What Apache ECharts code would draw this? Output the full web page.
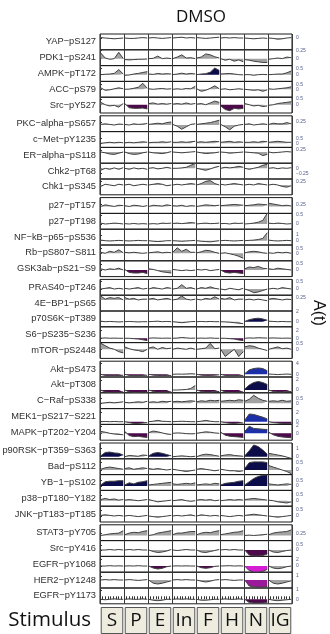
<!DOCTYPE html>
<html>
<head>
<meta charset="utf-8">
<script src="https://cdn.jsdelivr.net/npm/echarts@6/dist/echarts.min.js"></script>
<style>
  html, body { margin: 0; padding: 0; background: #fff; }
  #main { width: 330px; height: 634px; }
</style>
</head>
<body>
<div id="main"></div>
<script>
// stimulus columns
const stimuli = ['S', 'P', 'E', 'In', 'F', 'H', 'N', 'IG'];

// row labels, top to bottom
const proteins = [
  'YAP−pS127', 'PDK1−pS241', 'AMPK−pT172', 'ACC−pS79', 'Src−pY527',
  'PKC−alpha−pS657', 'c−Met−pY1235', 'ER−alpha−pS118', 'Chk2−pT68', 'Chk1−pS345',
  'p27−pT157', 'p27−pT198', 'NF−kB−p65−pS536', 'Rb−pS807−S811', 'GSK3ab−pS21−S9',
  'PRAS40−pT246', '4E−BP1−pS65', 'p70S6K−pT389', 'S6−pS235−S236', 'mTOR−pS2448',
  'Akt−pS473', 'Akt−pT308', 'C−Raf−pS338', 'MEK1−pS217−S221', 'MAPK−pT202−Y204',
  'p90RSK−pT359−S363', 'Bad−pS112', 'YB−1−pS102', 'p38−pT180−Y182', 'JNK−pT183−pT185',
  'STAT3−pY705', 'Src−pY416', 'EGFR−pY1068', 'HER2−pY1248', 'EGFR−pY1173'
];

// y range of each row and its two tick labels
const yMin = [-2.95, -0.22, -0.56, -0.79, -0.69,  -0.55, -0.41, -1.4, -0.535, -0.67,
              -0.86, -0.29, -0.75, -0.75, -0.55,  -0.42, -1.4, -1.02, -1.13, -0.76,
              -0.98, -0.56, -0.53, -0.6, -1.86,   -0.25, -0.31, -0.41, -0.48, -0.5,
              -0.64, -0.64, -1.86, -2, -0.48];
const yMax = [1, 0.28, 0.75, 0.79, 0.63,  0.77, 1.17, 0.575, 0.255, 0.41,
              1.1, 0.59, 2.0, 0.83, 0.77,  0.66, 0.6, 2.14, 3.0, 0.56,
              4.77, 2.6, 1.05, 2.9, 2.4,  1.63, 0.76, 1.07, 0.9, 0.82,
              1.34, 0.94, 2.9, 1.95, 1.21];
const tickLo = [-1, 0, 0, 0, 0,  0, 0, 0, -0.25, 0,  0, 0, 0, 0, 0,  0, 0, 0, 0, 0,
                0, 0, 0, 0, 0,  0, 0, 0, 0, 0,  0, 0, 0, 0, 0];
const tickHi = [0, 0.25, 0.5, 0.5, 0.5,  0.25, 0.5, 0.25, 0, 0.25,
                0.25, 0.5, 1, 0.5, 0.5,  0.5, 0.25, 2, 2, 0.5,
                4, 2, 0.5, 2, 2,  1, 0.5, 0.5, 0.5, 0.5,
                0.25, 0.5, 2, 1, 1];

// A(t) per row: 8 stimuli x 6 time points
const group1 = [
  [[0.1,0,-0.1,-0.2,-0.1,0],[0,-0.1,-0.1,0,0.1,0],[0,0.1,0,-0.1,0,0.1],[0,0.1,0.2,0,0.1,0],
   [0.1,0,-0.1,0,0.1,0.2],[0,0.1,0,0.1,0,0],[0,-0.1,-0.2,-0.1,0,-0.1],[0,-0.1,-0.3,-0.2,0,0.1]],
  [[0.18,0.02,-0.02,0,0.2,0],[-0.03,-0.04,-0.03,-0.02,-0.02,-0.01],[0,0.01,0.08,0,0.02,0],[0,0.05,0.12,0.02,0.03,0],
   [0.02,0.05,0.15,0.12,0.06,0.02],[0,-0.05,-0.02,-0.08,-0.04,-0.1],[-0.03,-0.05,-0.08,-0.1,-0.12,-0.12],[-0.02,0,0.02,0,0.05,0.03]],
  [[0,0.03,0.05,0.1,0.42,0.05],[-0.05,-0.03,0.05,0.1,0.18,0.25],[0.05,0.02,0.1,0.05,0.08,0.05],[0,0.05,0.12,0.05,0.1,0.05],
   [0,0.05,0.08,0.2,0.55,0.35],[0.05,0.08,0.1,0.05,0,-0.02],[0,0,-0.05,0,0.02,0],[0,0.02,0.05,0.05,0.15,0.3]],
  [[0.15,-0.1,-0.05,0.05,0.15,0.05],[0,0.02,0.1,0.2,0.6,0.1],[0.05,0,0.05,0.08,0.02,0.05],[0,0.05,0,0.08,0.05,0.3],
   [0.05,-0.2,-0.1,0.1,0.35,0.05],[0,0.05,-0.05,0,0.05,0],[0,-0.05,-0.1,-0.05,-0.2,-0.05],[0.05,0,0.05,0.1,0.15,0.25]],
  [[0.2,0,-0.1,-0.05,-0.2,0.1],[0.1,-0.25,-0.3,-0.3,-0.28,-0.35],[0.1,0.15,0.05,0.1,0.05,0.1],[0.05,0.1,0.05,0.15,0.05,0.1],
   [0.05,0.1,0,0.15,0.3,0.2],[-0.1,-0.4,-0.5,-0.3,-0.35,-0.3],[0.1,0,-0.1,-0.05,-0.15,-0.1],[-0.05,0,0.1,0.15,0.2,0.25]]
];
const group2 = [
  [[0.05,0.1,0.05,0,0.08,0.05],[0.05,0,0.1,0.05,0.08,0.12],[0.05,0.1,0.15,0.1,0.2,0.25],[0.05,-0.1,-0.35,-0.15,0.05,0.1],
   [0.05,0.1,0.15,0.2,0.3,0.4],[0.05,-0.15,-0.4,-0.1,0,0.05],[0.05,0.1,0,0.05,0.1,0.05],[0.05,0.15,0.1,0.1,0.2,0.1]],
  [[0,0.05,0.1,0.05,0.1,0.05],[0.05,0.1,0.05,0.1,0.15,0.1],[0.05,0.1,0.1,0.15,0.1,0.15],[0.1,0.1,0.15,0.1,0.15,0.2],
   [0.1,0.15,0.1,0.15,0.2,0.15],[0.1,0.15,0.2,0.1,0.15,0.1],[0.1,0.1,0.15,0.1,0.2,0.15],[0.1,0.15,0.2,0.15,0.1,0.1]],
  [[0,-0.1,-0.25,-0.3,-0.15,0],[0,-0.2,-0.3,-0.25,-0.1,0],[0,-0.1,-0.15,-0.2,-0.1,0.05],[0,-0.05,-0.1,-0.05,0,0.05],
   [0,-0.1,-0.2,-0.15,-0.1,0],[0,-0.05,-0.15,-0.1,-0.05,0],[0,-0.05,-0.1,-0.15,-0.45,-0.3],[0,-0.1,-0.05,0,0.05,0]],
  [[-0.1,0,-0.05,0.02,-0.05,0.03],[0,-0.05,0.02,-0.03,0,-0.05],[0,0.03,-0.03,0,0.05,0],[0,0,0.02,0.05,0.15,0.25],
   [0,-0.05,-0.1,-0.03,0.05,0.1],[0,0.05,0.02,0.05,0.1,0.05],[0,-0.05,0,0.05,0.15,0.2],[0,0.03,-0.02,0.02,0,0.03]],
  [[-0.1,0.05,0,-0.05,0.05,0],[0,0.05,-0.05,0,0.05,0],[0,0.05,0.1,0.05,-0.05,0],[0,0.05,0,0.05,0.1,0.05],
   [0,0.1,0.25,0.3,0.1,0],[0.05,0,0.05,0.1,0.05,0],[0,0.05,0,0.1,0.05,0],[0,0.05,0,-0.1,-0.15,-0.05]]
];
const group3 = [
  [[0,0.2,0.1,0,0.15,0.1],[0.1,0,0.15,0.1,0,0.1],[0,0.15,0.1,0.05,0.2,0.1],[0.1,0.05,0.15,0,0.1,0.05],
   [0,0.1,0.2,0.15,0.1,0.15],[0.1,0.15,0.2,0.25,0.2,0.15],[0.1,0.15,0.2,0.3,0.25,0.2],[0.4,0.3,0.2,0.1,0.15,0.05]],
  [[0.05,0,0.02,0.05,0.03,0],[0.02,0,0.03,0,0.02,0],[0,0.02,0,0.05,0.03,0.05],[0.03,0.05,0.02,0.05,0.08,0.05],
   [0,0.03,0.05,0.02,0.03,0.05],[0.02,0.03,0,0.05,0.03,0.05],[0,0.02,0.05,0.1,0.2,0.6],[0.05,0.02,0.05,0.03,0,0.02]],
  [[0.1,0,-0.05,0,0.05,0],[0,-0.05,0,0.05,0,0],[0,-0.1,-0.15,-0.1,0,0],[0,-0.05,-0.1,-0.05,0,0.05],
   [0,-0.1,-0.15,-0.2,-0.1,0],[0,0.05,0,-0.05,0,0.05],[0,0.05,0.1,0.2,0.4,1.4],[0.1,0,-0.05,0,0.05,0]],
  [[0.1,0,0.2,0.1,0.35,0.05],[0.1,0.05,0.1,0.05,0,0.05],[0.05,0.1,0.15,0.05,0.1,0.05],[0.1,0.55,0.2,0.4,0.1,0.1],
   [0.05,0.15,0.3,0.25,0.1,0],[0,0.05,-0.05,-0.15,-0.3,-0.5],[0.05,0.15,0.2,0.15,0.05,0],[0.05,0,0.1,0.05,0.1,0]],
  [[0.1,0,0.1,0.05,0.15,0],[0.05,-0.2,-0.25,-0.25,-0.2,-0.3],[0.1,0.05,-0.05,-0.15,-0.2,-0.25],[0.05,0,-0.05,0,-0.05,0],
   [0.05,0,0.05,-0.05,0,0.05],[0,-0.2,-0.25,-0.2,-0.25,-0.3],[0.1,0.25,0.2,0.3,0.15,0.1],[0.1,0.05,0.15,0.1,0.05,0]]
];
const group4 = [
  [[0,0.05,0.1,0,0.05,0],[0.05,0,0.05,0.1,0,0.05],[0,0.1,0.05,0,0.1,0.05],[0,0.05,0.3,0.05,0.1,0],
   [0,0.1,0.05,0.15,0.05,0],[0,-0.05,0.05,0,-0.05,0.05],[0,-0.1,-0.25,-0.2,-0.1,0],[0,0.05,0,0.1,0.05,0]],
  [[0.5,0.1,0.3,0.2,0.3,0],[0.3,0.1,0.2,0,0.1,0.1],[0.1,0.2,0,0.1,0.2,0.05],[0,0.1,0.5,0.1,0,0.1],
   [0.1,0,0.2,0.1,0.4,0.1],[0.2,0.1,0.3,0,0.1,0.1],[0,0.1,0,0.1,0,-0.1],[0.1,0.2,0.1,0,0.1,0.05]],
  [[0.1,0,0.05,0,-0.05,0],[0,0.05,0,-0.05,0,0],[0,0.05,0.1,0,0.05,0],[0,-0.1,-0.2,-0.1,0,0.05],
   [0,0.05,0,0.05,0,0],[0,-0.05,-0.1,-0.2,-0.3,-0.4],[0.05,0.4,0.6,0.7,0.55,0.3],[0.1,0.05,0,0.05,0,0]],
  [[0,0.1,0,0.05,0,0],[0,0,-0.1,-0.2,-0.4,-0.6],[0,0.1,0.05,0,0.05,0],[0,0.05,0.2,0.1,0,0.05],
   [0,0.05,0,0.1,0,0],[0,0,-0.1,-0.2,-0.45,-0.6],[0,0.1,0.05,0.15,0.1,0.05],[0.05,0.1,0.05,0,0.05,0]],
  [[0.5,0.3,0.1,0,-0.2,-0.3],[0.2,0.05,-0.05,-0.1,-0.2,0],[0.1,0.2,0,0.15,0.05,0.1],[0,0.1,0.05,0,0.1,0],
   [0,0.05,0.1,0.5,0.05,0.1],[0,-0.6,-0.3,0,-0.6,-0.2],[0.2,0.3,0.25,0.1,0,-0.1],[0,0.1,0.2,0.05,0.1,0]]
];
const group5 = [
  [[0,-0.4,-0.5,-0.4,-0.5,-0.3],[0,-0.4,-0.5,-0.5,-0.4,-0.3],[0,-0.3,-0.4,-0.5,-0.4,-0.4],[0,0.1,0.05,0.1,0.2,0.1],
   [0,-0.3,-0.4,-0.4,-0.3,-0.2],[0,-0.4,-0.5,-0.5,-0.4,-0.4],[0.2,1.6,2.1,2.3,2.1,1.3],[0.1,0,-0.1,0,0.1,0]],
  [[0,-0.4,-0.5,-0.4,-0.5,-0.4],[0,-0.4,-0.5,-0.5,-0.4,-0.5],[0,-0.3,-0.5,-0.4,-0.4,-0.4],[0,0,0.05,0.1,0.3,0.9],
   [0,-0.3,-0.4,-0.4,-0.3,-0.3],[0,-0.4,-0.5,-0.5,-0.4,-0.4],[0.2,1.0,1.5,1.7,1.5,1.1],[0,-0.3,-0.4,-0.4,-0.3,-0.3]],
  [[0,0.05,0.1,0.05,0.1,0.15],[0.1,0.05,0.1,0.15,0.1,0.2],[0.1,0.15,0.1,0.2,0.15,0.2],[0.15,0.2,0.15,0.2,0.25,0.2],
   [0.15,0.25,0.2,0.3,0.25,0.3],[0.2,0.25,0.3,0.25,0.35,0.3],[0.2,0.4,0.8,0.5,0.3,0.2],[0.2,0.25,0.2,0.3,0.2,0.25]],
  [[0,0.05,0,0.05,0,0],[0,-0.2,-0.4,-0.4,-0.3,-0.2],[0,0.1,0.3,0.1,0.05,0],[0,0.05,0.1,0.05,0,0],
   [0,0.1,0.3,0.1,0,0],[0,-0.2,-0.35,-0.4,-0.3,-0.3],[0.3,1.7,1.6,1.3,1.0,0.6],[0,-0.2,-0.3,-0.4,-0.4,-0.45]],
  [[0.5,0.3,0,-0.2,-0.3,-0.4],[0.5,-0.6,-0.9,-0.8,-1.0,-1.1],[0.2,0.6,0.4,0.1,-0.2,-0.3],[0,0.1,0.05,-0.1,-0.15,-0.1],
   [0,0.2,0.4,0.3,0.1,0],[0.3,-0.5,-0.8,-0.9,-1.0,-1.1],[0.5,1.9,1.3,1.2,1.1,1.0],[0.3,-0.4,-0.8,-1.0,-1.1,-1.2]]
];
const group6 = [
  [[0.1,0.5,0.55,0.45,0.4,0.2],[0,0.15,0.1,0.05,0.2,0.15],[0.1,0.4,0.5,0.4,0.25,0.1],[0,0.05,0.1,0.05,0,0.05],
   [0,0.2,0.3,0.25,0.15,0.05],[0.1,0.2,0.25,0.15,0.1,0.05],[0.1,0.7,1.4,1.2,0.8,0.3],[0.4,0.3,0.2,0.1,-0.05,-0.2]],
  [[0.05,0.15,0.2,0.15,0.1,0.05],[0.1,0.15,0.05,0.1,0.15,0.1],[0.1,0.05,0.1,0.05,0,0.05],[0.05,0,-0.05,-0.1,-0.05,0],
   [0.05,0.1,0.05,0,-0.05,0],[0.05,0,-0.05,-0.05,-0.1,-0.05],[0.1,0.5,0.55,0.55,0.55,0.5],[0.3,0.2,0.1,0,-0.1,-0.25]],
  [[0.1,0.4,0.45,0.45,0.5,0.5],[0.1,0.3,0.2,0.35,0.4,0.5],[0.1,0.15,0.2,0.25,0.3,0.35],[0.2,0.15,0.2,0.25,0.2,0.3],
   [0.1,0.15,0.2,0.15,0.25,0.2],[0.1,0.25,0.3,0.35,0.45,0.5],[0.1,0.4,0.7,0.9,1.0,1.05],[0.2,0.15,0.1,0.15,0.2,0.15]],
  [[0.1,0.2,0.1,0.15,0.05,0.1],[0.05,0.1,0.05,0,0.05,0.1],[0.1,0,-0.1,-0.05,0,0.05],[0,0.05,0.1,0,-0.05,0],
   [0.05,0.1,0.05,0.1,0,0.05],[0,0.05,0.1,0.05,0.1,0.05],[0.1,0.15,0.2,0.15,0.1,0.05],[0.05,0,-0.1,-0.15,-0.2,-0.1]],
  [[0.05,0.1,0.05,0,0.05,0],[0,0.05,0,-0.05,0,0.05],[0,-0.05,-0.1,-0.05,0,0.05],[0,0.05,0,0.05,0.1,0],
   [0,0.1,0.05,0,0.05,0],[0.05,0,-0.05,0,0.05,0],[0.05,0.1,0.15,0.1,0.05,0],[0,-0.05,-0.1,-0.05,0,0.05]]
];
const group7 = [
  [[0,0.1,0.2,0.25,0.3,0.6],[0.1,0.3,0.4,0.35,0.5,0.6],[0,0.1,0.3,0.4,0.5,0.6],[0.1,0.3,0.3,0.4,0.5,0.5],
   [0.1,0.3,0.4,0.35,0.5,0.6],[0.1,0.2,0.3,0.4,0.45,0.6],[0,0.05,0,0.05,0.1,0.15],[0.1,0.3,0.4,0.45,0.5,0.7]],
  [[0,0,0.05,0,0.05,0],[0,0.05,0,0.05,0,0],[0,-0.15,-0.25,-0.2,-0.1,0.05],[0,-0.05,0,0.05,0,0],
   [0,-0.2,-0.25,-0.15,-0.05,0.05],[0,0.05,0,0.05,0,0],[0,-0.5,-0.6,-0.6,-0.55,-0.4],[0,-0.2,-0.25,-0.15,-0.05,0]],
  [[0,0,0.1,0,0.05,0],[0,0.05,0,0.1,0,0],[0,-0.6,-0.9,-0.7,-0.2,0],[0,0.05,0,0.05,0,0],
   [0,-0.5,-0.7,-0.5,-0.1,0],[0,0.05,0.1,0,0.05,0],[0,-1.4,-1.8,-1.8,-1.6,-1.0],[0,-0.6,-0.8,-0.6,-0.2,0]],
  [[0,0.1,0,0.1,0,0],[0,0.1,0,-0.1,0,0.1],[0,-0.8,-1.0,-0.8,-0.5,-0.2],[0,0.1,0,0.1,0,0],
   [0,-0.3,-0.5,-0.3,0,0.1],[0,0.1,0,-0.1,0,0],[0,-1.5,-1.7,-1.8,-1.8,-1.6],[0,-0.8,-1.0,-0.8,-0.5,-0.2]],
  [[0,-0.05,0,0.05,0,0],[0,0.05,0,0,0.05,0],[0,-0.1,-0.15,-0.1,0,0],[0,0.05,0,0.05,0,0],
   [0,-0.1,-0.1,-0.05,0,0],[0,0.05,0,0,0.05,0],[0,-0.35,-0.4,-0.4,-0.4,-0.35],[0,-0.1,-0.15,-0.1,-0.05,0]]
];

// significant cells: [row, stimulus, colour key]
const highlights = [
  [2, 4, 'navy'], [4, 1, 'plum'], [4, 5, 'plum'],
  [14, 1, 'plum'], [14, 5, 'plum'],
  [17, 6, 'navy'], [18, 1, 'plum'], [18, 5, 'plum'],
  [20, 0, 'plum'], [20, 1, 'plum'], [20, 2, 'plum'], [20, 4, 'plum'], [20, 5, 'plum'], [20, 6, 'blue'],
  [21, 0, 'plum'], [21, 1, 'plum'], [21, 2, 'plum'], [21, 4, 'plum'], [21, 5, 'plum'], [21, 6, 'navy'], [21, 7, 'plum'],
  [23, 1, 'plum'], [23, 5, 'plum'], [23, 6, 'blue'], [23, 7, 'plum'],
  [24, 1, 'plum'], [24, 5, 'plum'], [24, 6, 'blue'], [24, 7, 'plum'],
  [25, 0, 'navy'], [25, 2, 'navy'], [25, 6, 'navy'],
  [26, 6, 'navy'],
  [27, 0, 'navy'], [27, 1, 'navy'], [27, 5, 'navy'], [27, 6, 'navy'],
  [31, 6, 'plum'],
  [32, 2, 'plum'], [32, 4, 'plum'], [32, 6, 'magenta'],
  [33, 6, 'violet'],
  [34, 6, 'plum']
];

const palette = {
  gray: '#a2a2a2', navy: '#0c0c4a', plum: '#4c0a4a', blue: '#1d2fa8',
  magenta: '#d41ed4', violet: '#9a1a9a'
};

const rows = [].concat(group1, group2, group3, group4, group5, group6, group7);

const chart = echarts.init(document.getElementById('main'), null, { renderer: 'canvas' });

const PLOT_LEFT = 100, PLOT_W = 192, TOP0 = 34, ROW_H = 15.8, GROUP_STEP = 81.8;
const fmt = v => (v < 0 ? '−' : '') + Math.abs(v);

let grids = [], xAxes = [], yAxes = [], series = [];
rows.forEach((cells, i) => {
  const g = Math.floor(i / 5), r = i % 5;
  const last = i === rows.length - 1;
  grids.push({
    left: PLOT_LEFT, width: PLOT_W, top: TOP0 + g * GROUP_STEP + r * ROW_H, height: ROW_H,
    show: true, borderColor: '#1a1a1a', borderWidth: 1,
    containLabel: false, outerBoundsMode: 'none'
  });
  xAxes.push({
    type: 'value', gridIndex: i, min: 0, max: 8, interval: 1,
    axisLine: { show: false },
    axisTick: { show: last, inside: true, length: 3, lineStyle: { color: '#333' } },
    minorTick: { show: last, splitNumber: 9, length: 3, lineStyle: { color: '#333' } },
    axisLabel: { show: false },
    splitLine: { show: true, lineStyle: { color: '#3a3a3a', width: 1 } }
  });
  yAxes.push({
    type: 'value', gridIndex: i, position: 'right', min: yMin[i], max: yMax[i],
    axisLine: { show: false },
    splitLine: { show: false },
    axisTick: { show: true, length: 2, customValues: [tickLo[i], tickHi[i]], lineStyle: { color: '#333' } },
    axisLabel: {
      show: true, customValues: [tickLo[i], tickHi[i]], fontSize: 5, margin: 4,
      color: '#55608a', fontFamily: 'Liberation Sans', formatter: fmt
    }
  });
  yAxes.push({
    type: 'category', gridIndex: i, position: 'left', data: [proteins[i]],
    axisLine: { show: false }, axisTick: { show: false }, splitLine: { show: false },
    axisLabel: { fontSize: 9.3, color: '#2e2e2e', margin: 4, fontFamily: 'Liberation Sans' }
  });
  cells.forEach((vals, c) => {
    const hl = highlights.find(h => h[0] === i && h[1] === c);
    series.push({
      type: 'line', xAxisIndex: i, yAxisIndex: 2 * i,
      data: vals.map((v, k) => [c + 0.03 + k * 0.94 / (vals.length - 1), v]),
      symbol: 'none', silent: true, animation: false,
      lineStyle: { color: '#404040', width: 1 },
      areaStyle: { color: palette[hl ? hl[2] : 'gray'], opacity: 1 }
    });
  });
});

// stimulus strip
const sIdx = rows.length;
grids.push({ left: PLOT_LEFT, width: PLOT_W, top: 607, bottom: 0, containLabel: false, outerBoundsMode: 'none' });
xAxes.push({
  type: 'category', gridIndex: sIdx, data: stimuli,
  axisLine: { show: false }, axisTick: { show: false }, axisLabel: { show: false }
});
yAxes.push({ type: 'value', gridIndex: sIdx, min: 0, max: 1, show: false });
yAxes.push({
  type: 'category', gridIndex: sIdx, position: 'left', data: ['Stimulus'],
  axisLine: { show: false }, axisTick: { show: false },
  axisLabel: { fontSize: 20.5, color: '#111', margin: 9, fontFamily: 'Open Sans' }
});
series.push({
  type: 'bar', xAxisIndex: sIdx, yAxisIndex: yAxes.length - 2,
  data: stimuli.map(() => 1), barCategoryGap: '6%', silent: true, animation: false,
  itemStyle: { color: '#eeebdf', borderColor: '#555', borderWidth: 1 },
  label: {
    show: true, position: 'inside', formatter: '{b}', fontSize: 19,
    color: '#111', fontFamily: 'Open Sans'
  }
});

chart.setOption({
  animation: false,
  backgroundColor: '#fff',
  title: {
    text: 'DMSO', left: 196, top: 4, textAlign: 'center',
    textStyle: { fontSize: 17, fontWeight: 'normal', fontFamily: 'Open Sans', color: '#111' }
  },
  graphic: [{
    type: 'text', x: 318, y: 313, rotation: -Math.PI / 2,
    style: {
      text: 'A(t)', fontSize: 16, fontFamily: 'Liberation Sans', fill: '#111',
      textAlign: 'center', textVerticalAlign: 'middle'
    }
  }],
  grid: grids,
  xAxis: xAxes,
  yAxis: yAxes,
  series: series
});
</script>
</body>
</html>
